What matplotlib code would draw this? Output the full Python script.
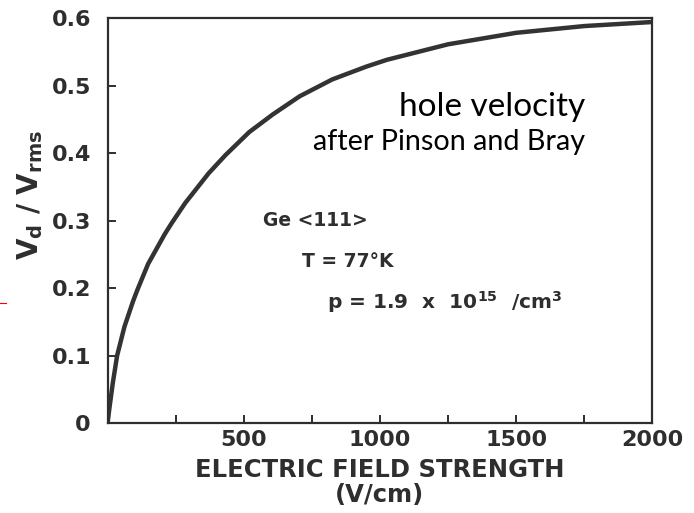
import matplotlib
matplotlib.use("Agg")
import matplotlib.pyplot as plt
from matplotlib.lines import Line2D

# Data
field = [0, 6, 19, 35, 62, 93, 109, 149, 210, 235, 285, 371, 433, 520, 606, 705,
         825, 950, 1025, 1250, 1500, 1750, 2000]
vd_vrms = [0, 0.020, 0.059, 0.100, 0.143, 0.180, 0.197, 0.236, 0.280, 0.296, 0.326,
           0.370, 0.397, 0.431, 0.457, 0.484, 0.509, 0.528, 0.538, 0.561, 0.578, 0.588, 0.594]

x_major = [500, 1000, 1500, 2000]
x_minor = [250, 750, 1250, 1750]
y_ticks = [0, 0.1, 0.2, 0.3, 0.4, 0.5, 0.6]
y_labels = ["0", "0.1", "0.2", "0.3", "0.4", "0.5", "0.6"]

ink = "#2e2e2e"
plt.rcParams['font.family'] = ['DejaVu Sans']

fig = plt.figure(figsize=(6.94, 5.13), dpi=100)
ax = fig.add_axes([0.155, 0.175, 0.785, 0.79])

ax.plot(field, vd_vrms, color="#333333", lw=3.2, solid_capstyle='round', solid_joinstyle='round')

ax.set_xlim(0, 2000)
ax.set_ylim(0, 0.6)
for s in ax.spines.values():
    s.set_color(ink)
    s.set_linewidth(1.6)

ax.set_xticks(x_major)
ax.set_xticklabels([str(v) for v in x_major], fontsize=16, color=ink, fontweight='bold')
ax.set_xticks(x_minor, minor=True)
ax.set_yticks(y_ticks)
ax.set_yticklabels(y_labels, fontsize=16, color=ink, fontweight='bold')
ax.tick_params(axis='both', which='both', direction='in', length=6, width=1.4, color=ink)
ax.tick_params(axis='x', which='major', pad=5)
ax.tick_params(axis='y', which='major', pad=12)

ax.set_xlabel("ELECTRIC FIELD STRENGTH\n(V/cm)", fontsize=17.5, color=ink, fontweight='bold',
              linespacing=1.05)
ax.xaxis.set_label_coords(0.5, -0.085)
ax.xaxis.label.set_va('top')
ax.set_ylabel("V$_\\mathregular{d}$ / V$_\\mathregular{rms}$", fontsize=20, color=ink, fontweight='bold')
ax.yaxis.set_label_coords(-0.143, 0.563)
ax.yaxis.label.set_va('center')

ax.text(570, 0.30, "Ge <111>", fontsize=13.5, color=ink, va='center', ha='left', fontweight='bold')
ax.text(715, 0.24, "T = 77°K", fontsize=13.5, color=ink, va='center', ha='left', fontweight='bold')
ax.text(805, 0.18, "p = 1.9  x  10$^\\mathregular{15}$  /cm$^\\mathregular{3}$", fontsize=14.5,
        color=ink, va='center', ha='left', fontweight='bold')

ax.text(1754, 0.455, "hole velocity", fontsize=24, family=['Lato', 'DejaVu Sans'],
        color="black", ha='right', va='baseline')
ax.text(1754, 0.405, "after Pinson and Bray", fontsize=20.7, family=['Lato', 'DejaVu Sans'],
        color="black", ha='right', va='baseline')

fig.add_artist(Line2D([0.0, 0.008], [0.41, 0.41], color="red", lw=0.8, transform=fig.transFigure))

fig.savefig("out.png", dpi=100)
